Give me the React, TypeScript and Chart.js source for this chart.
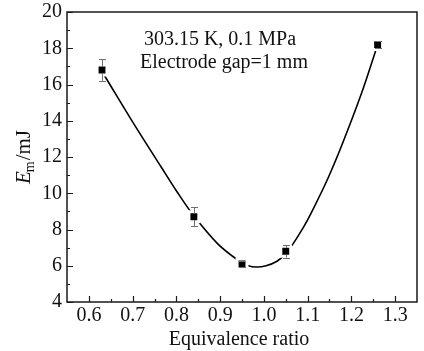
import React, { useEffect, useRef } from 'react';
import { Chart, registerables } from 'chart.js';

Chart.register(...registerables);

// measured points
const ratio = [0.63, 0.84, 0.95, 1.05, 1.26];
const energy = [16.8, 8.7, 6.1, 6.8, 18.2];
const energyErr = [0.6, 0.52, 0.15, 0.35, 0.2];

// fitted curve
const fitRatio = [0.628, 0.639, 0.701, 0.766, 0.801, 0.839, 0.894, 0.941, 0.963, 0.983, 1.005, 1.03, 1.048, 1.061, 1.09, 1.108, 1.146, 1.179, 1.223, 1.252, 1.26];
const fitEnergy = [16.8, 16.36, 13.9, 11.42, 10.1, 8.78, 7.22, 6.3, 6.02, 5.93, 6.0, 6.25, 6.62, 7.0, 8.1, 8.9, 10.8, 12.7, 15.5, 17.6, 18.2];

// axes
const xMin = 0.55;
const xMax = 1.35;
const xTicks = [0.6, 0.7, 0.8, 0.9, 1.0, 1.1, 1.2, 1.3];
const xMinorTicks = [0.65, 0.75, 0.85, 0.95, 1.05, 1.15, 1.25];
const yMin = 4;
const yMax = 20;
const yTicks = [4, 6, 8, 10, 12, 14, 16, 18, 20];
const yMinorTicks = [5, 7, 9, 11, 13, 15, 17, 19];

const noteLines = ['303.15 K, 0.1 MPa', 'Electrode gap=1 mm'];
const xTitle = 'Equivalence ratio';

const SERIF = '"Liberation Serif", "Times New Roman", serif';

const decorPlugin = {
  id: 'decor',
  afterDatasetsDraw(chart: any) {
    const { ctx, scales } = chart;
    const x = scales.x;
    const y = scales.y;
    ctx.save();
    ctx.strokeStyle = '#6e6e6e';
    ctx.lineWidth = 1;
    const half = 3.4;
    ratio.forEach((r, i) => {
      const px = Math.round(x.getPixelForValue(r)) + 0.5;
      const py = y.getPixelForValue(energy[i]);
      const top = y.getPixelForValue(energy[i] + energyErr[i]);
      const bot = y.getPixelForValue(energy[i] - energyErr[i]);
      ctx.beginPath();
      if (top < py - half) {
        ctx.moveTo(px, py - half);
        ctx.lineTo(px, top);
      }
      if (bot > py + half) {
        ctx.moveTo(px, py + half);
        ctx.lineTo(px, bot);
      }
      ctx.moveTo(px - 3.5, Math.round(top) + 0.5);
      ctx.lineTo(px + 3.5, Math.round(top) + 0.5);
      ctx.moveTo(px - 3.5, Math.round(bot) + 0.5);
      ctx.lineTo(px + 3.5, Math.round(bot) + 0.5);
      ctx.stroke();
    });
    ctx.restore();
  },
  afterDraw(chart: any) {
    const { ctx, chartArea: a, scales } = chart;
    const x = scales.x;
    const y = scales.y;
    ctx.save();
    // frame
    ctx.strokeStyle = '#1a1a1a';
    ctx.lineWidth = 1.5;
    ctx.beginPath();
    ctx.moveTo(a.left, a.top);
    ctx.lineTo(a.right, a.top);
    ctx.lineTo(a.right, a.bottom);
    ctx.lineTo(a.left, a.bottom);
    ctx.closePath();
    ctx.stroke();
    // inward ticks
    ctx.lineWidth = 1.2;
    ctx.beginPath();
    xTicks.forEach((v) => {
      const px = Math.round(x.getPixelForValue(v)) + 0.5;
      ctx.moveTo(px, a.bottom);
      ctx.lineTo(px, a.bottom - 6);
    });
    xMinorTicks.forEach((v) => {
      const px = Math.round(x.getPixelForValue(v)) + 0.5;
      ctx.moveTo(px, a.bottom);
      ctx.lineTo(px, a.bottom - 3);
    });
    yTicks.forEach((v) => {
      const py = Math.round(y.getPixelForValue(v)) + 0.5;
      ctx.moveTo(a.left, py);
      ctx.lineTo(a.left + 6, py);
    });
    yMinorTicks.forEach((v) => {
      const py = Math.round(y.getPixelForValue(v)) + 0.5;
      ctx.moveTo(a.left, py);
      ctx.lineTo(a.left + 3, py);
    });
    ctx.stroke();

    // notes
    ctx.fillStyle = '#111';
    ctx.font = `20px ${SERIF}`;
    ctx.textAlign = 'center';
    ctx.textBaseline = 'alphabetic';
    ctx.fillText(noteLines[0], 220, 45);
    ctx.fillText(noteLines[1], 224, 68);

    // x title
    ctx.fillText(xTitle, (a.left + a.right) / 2 - 3, 345);

    // y title: E_m/mJ
    ctx.translate(30, (a.top + a.bottom) / 2);
    ctx.rotate(-Math.PI / 2);
    ctx.textAlign = 'left';
    const fE = `italic 21px ${SERIF}`;
    const fSub = `14px ${SERIF}`;
    const fN = `21px ${SERIF}`;
    ctx.font = fE;
    const wE = ctx.measureText('E').width;
    ctx.font = fSub;
    const wSub = ctx.measureText('m').width;
    ctx.font = fN;
    const wRest = ctx.measureText('/mJ').width;
    const total = wE + wSub + wRest;
    let cx = -total / 2;
    ctx.font = fE;
    ctx.fillText('E', cx, 0);
    cx += wE - 1;
    ctx.font = fSub;
    ctx.fillText('m', cx, 4);
    cx += wSub + 1;
    ctx.font = fN;
    ctx.fillText('/mJ', cx, 0);
    ctx.restore();
  },
};

export default function App() {
  const ref = useRef<HTMLCanvasElement | null>(null);
  useEffect(() => {
    if (!ref.current) return;
    const chart = new Chart(ref.current, {
      type: 'scatter',
      data: {
        datasets: [
          {
            type: 'scatter',
            label: 'measured',
            data: ratio.map((r, i) => ({ x: r, y: energy[i] })),
            pointStyle: 'rect',
            pointRadius: 7,
            pointHoverRadius: 7,
            backgroundColor: '#000',
            borderColor: '#fff',
            borderWidth: 3,
            order: 1,
          },
          {
            type: 'line',
            label: 'fit',
            data: fitRatio.map((r, i) => ({ x: r, y: fitEnergy[i] })),
            borderColor: '#000',
            borderWidth: 1.6,
            pointRadius: 0,
            fill: false,
            tension: 0.35,
            order: 2,
          },
        ],
      },
      options: {
        animation: false,
        responsive: false,
        devicePixelRatio: 1,
        layout: { padding: { top: 12, left: 0, right: 0, bottom: 0 } },
        plugins: {
          legend: { display: false },
          tooltip: { enabled: false },
          title: { display: false },
        },
        scales: {
          x: {
            type: 'linear',
            min: xMin,
            max: xMax,
            grid: { display: false, drawTicks: false },
            border: { display: false },
            afterBuildTicks: (s: any) => {
              s.ticks = xTicks.map((v) => ({ value: v }));
            },
            afterFit: (s: any) => {
              s.height = 49;
              s.paddingLeft = 0;
              s.paddingRight = 0;
            },
            ticks: {
              autoSkip: false,
              maxRotation: 0,
              padding: 2,
              color: '#111',
              font: { family: SERIF, size: 20 },
              callback: (v: any) => Number(v).toFixed(1),
            },
          },
          y: {
            type: 'linear',
            min: yMin,
            max: yMax,
            grid: { display: false, drawTicks: false },
            border: { display: false },
            afterBuildTicks: (s: any) => {
              s.ticks = yTicks.map((v) => ({ value: v }));
            },
            afterFit: (s: any) => {
              s.width = 67;
              s.paddingTop = 0;
              s.paddingBottom = 0;
            },
            ticks: {
              autoSkip: false,
              padding: 5,
              color: '#111',
              font: { family: SERIF, size: 20 },
              callback: (v: any) => String(v),
            },
          },
        },
      },
      plugins: [decorPlugin],
    } as any);
    return () => chart.destroy();
  }, []);

  return (
    <div
      style={{
        position: 'absolute',
        left: 0,
        top: 0,
        width: 424,
        height: 351,
        overflow: 'hidden',
        background: '#fff',
      }}
    >
      <canvas ref={ref} width={427} height={351} style={{ display: 'block', width: 427, height: 351 }} />
    </div>
  );
}
